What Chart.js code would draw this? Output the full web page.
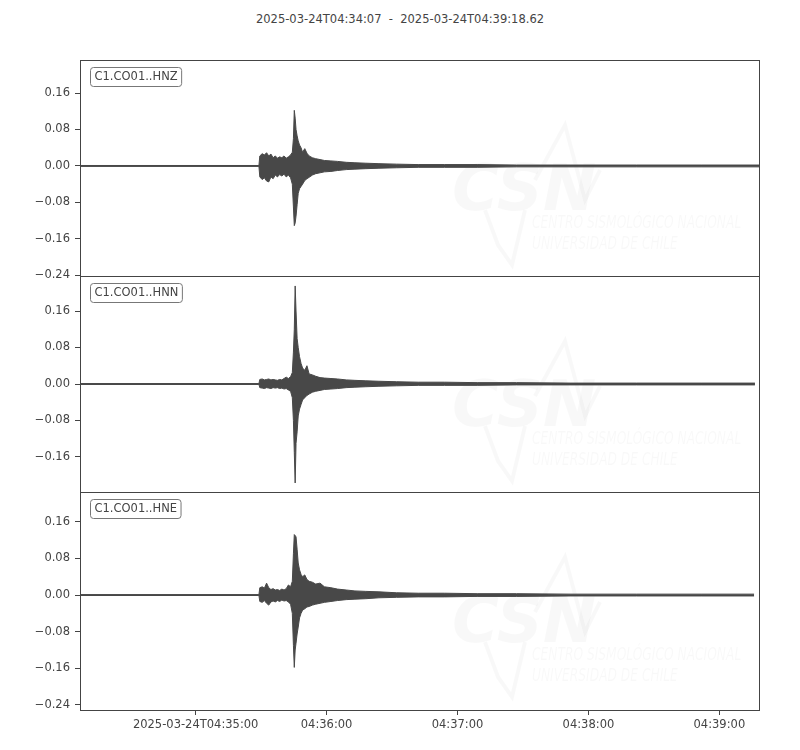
<!DOCTYPE html>
<html>
<head>
<meta charset="utf-8">
<script src="https://cdn.jsdelivr.net/npm/chart.js@4.4.1/dist/chart.umd.min.js"></script>
<style>
  body { margin: 0; background: #fff; }
  #wrap { position: relative; width: 800px; height: 750px; }
  canvas { position: absolute; left: 0; top: 0; }
  #title { position: absolute; top: 12px; left: 0; width: 800px; text-align: center;
           font: 11.5px "DejaVu Sans", sans-serif; color: #444; white-space: pre; }
</style>
</head>
<body>
<div id="wrap">
  <div id="title">2025-03-24T04:34:07  -  2025-03-24T04:39:18.62</div>
  <canvas id="c1" width="800" height="750"></canvas>
  <canvas id="c2" width="800" height="750"></canvas>
  <canvas id="c3" width="800" height="750"></canvas>
</div>
<script>
// seconds after 04:34:07 (last point is per-station end time)
const times = [0, 82.0, 82.4, 83.5, 84.5, 85.5, 86.5, 87.5, 88.5, 89.5,
    90.5, 91.5, 92.5, 93.5, 94.5, 95.5, 96.5, 97.3, 97.8, 98.2,
    98.6, 99.0, 99.5, 100.0, 100.6, 101.3, 102.0, 103.0, 104.0, 105.0,
    106.5, 108.0, 110.0, 112.0, 115.0, 118.0, 122.0, 126.0, 131.0, 137.0,
    145.0, 155.0, 167.0, 182.0, 200.0, 225.0, 255.0, 285.0];
const endTimes = [311.6, 309.3, 308.9];

const stations = ['C1.CO01..HNZ', 'C1.CO01..HNN', 'C1.CO01..HNE'];

// upper / lower envelope of the trace
const hnzTop = [0.001, 0.001, 0.022, 0.027, 0.024, 0.029, 0.022, 0.026, 0.018, 0.022,
    0.017, 0.020, 0.018, 0.022, 0.017, 0.020, 0.024, 0.030, 0.060, 0.122,
    0.105, 0.080, 0.066, 0.055, 0.046, 0.040, 0.030, 0.038, 0.028, 0.022,
    0.018, 0.016, 0.014, 0.012, 0.011, 0.010, 0.008, 0.007, 0.006, 0.005,
    0.004, 0.003, 0.003, 0.003, 0.002, 0.002, 0.002, 0.002, 0.002];
const hnzBot = [-0.001, -0.001, -0.024, -0.030, -0.026, -0.033, -0.035, -0.024, -0.028, -0.020,
    -0.024, -0.019, -0.022, -0.018, -0.024, -0.020, -0.026, -0.040, -0.090, -0.131,
    -0.125, -0.110, -0.085, -0.060, -0.050, -0.045, -0.040, -0.032, -0.028, -0.025,
    -0.020, -0.017, -0.015, -0.013, -0.012, -0.010, -0.008, -0.007, -0.006, -0.005,
    -0.004, -0.003, -0.003, -0.003, -0.002, -0.002, -0.002, -0.002, -0.002];
const hnnTop = [0.001, 0.001, 0.010, 0.011, 0.009, 0.010, 0.011, 0.009, 0.010, 0.009,
    0.008, 0.010, 0.009, 0.012, 0.015, 0.012, 0.016, 0.025, 0.070, 0.120,
    0.215, 0.160, 0.100, 0.080, 0.060, 0.045, 0.035, 0.030, 0.040, 0.022,
    0.020, 0.017, 0.014, 0.013, 0.012, 0.011, 0.009, 0.008, 0.007, 0.006,
    0.005, 0.004, 0.004, 0.003, 0.003, 0.002, 0.002, 0.002, 0.002];
const hnnBot = [-0.001, -0.001, -0.008, -0.009, -0.010, -0.008, -0.009, -0.010, -0.008, -0.009,
    -0.008, -0.010, -0.009, -0.011, -0.010, -0.013, -0.016, -0.030, -0.080, -0.150,
    -0.217, -0.130, -0.105, -0.070, -0.055, -0.045, -0.035, -0.030, -0.025, -0.022,
    -0.018, -0.016, -0.014, -0.012, -0.011, -0.010, -0.008, -0.007, -0.006, -0.005,
    -0.004, -0.003, -0.003, -0.003, -0.002, -0.002, -0.002, -0.002, -0.002];
const hneTop = [0.001, 0.001, 0.016, 0.018, 0.015, 0.026, 0.016, 0.012, 0.014, 0.011,
    0.012, 0.010, 0.013, 0.011, 0.014, 0.022, 0.018, 0.030, 0.090, 0.132,
    0.130, 0.127, 0.100, 0.070, 0.055, 0.045, 0.040, 0.044, 0.034, 0.030,
    0.028, 0.024, 0.026, 0.018, 0.016, 0.013, 0.011, 0.009, 0.008, 0.007,
    0.005, 0.004, 0.004, 0.003, 0.003, 0.002, 0.002, 0.002, 0.002];
const hneBot = [-0.001, -0.001, -0.014, -0.016, -0.012, -0.018, -0.022, -0.015, -0.013, -0.015,
    -0.012, -0.014, -0.011, -0.013, -0.012, -0.015, -0.020, -0.040, -0.110, -0.158,
    -0.120, -0.105, -0.085, -0.070, -0.050, -0.040, -0.033, -0.030, -0.026, -0.025,
    -0.022, -0.020, -0.018, -0.016, -0.014, -0.012, -0.010, -0.009, -0.008, -0.006,
    -0.005, -0.004, -0.004, -0.003, -0.003, -0.002, -0.002, -0.002, -0.002];

const tops = [hnzTop, hnnTop, hneTop];
const bots = [hnzBot, hnnBot, hneBot];

const yRanges = [[-0.2415, 0.2325], [-0.2368, 0.2368], [-0.2510, 0.2250]];
const yTicks = [
    [-0.24, -0.16, -0.08, 0, 0.08, 0.16],
    [-0.16, -0.08, 0, 0.08, 0.16],
    [-0.24, -0.16, -0.08, 0, 0.08, 0.16]
];
const xTicks = [53, 113, 173, 233, 293];
const xLabels = ['2025-03-24T04:35:00', '04:36:00', '04:37:00', '04:38:00', '04:39:00'];
const xMax = 311.62;

// panel pixel bounds (top, bottom)
const panels = [[60, 276], [276, 492], [492, 710]];

const ink = '#444444';
const trace = '#484848';
const font = { family: 'DejaVu Sans', size: 11.5 };

const framePlugin = {
    id: 'frame',
    beforeDatasetsDraw(chart) {
        // faint CSN watermark
        const a = chart.chartArea, ctx = chart.ctx;
        ctx.save();
        ctx.beginPath();
        ctx.rect(a.left, a.top, a.right - a.left, a.bottom - a.top);
        ctx.clip();
        ctx.fillStyle = 'rgba(0,0,0,0.028)';
        ctx.strokeStyle = 'rgba(0,0,0,0.028)';
        ctx.font = 'italic bold 64px "DejaVu Sans"';
        ctx.fillText('CSN', a.left + 372, a.top + 150);
        ctx.lineWidth = 4;
        ctx.beginPath();
        ctx.moveTo(a.left + 455, a.top + 120);
        ctx.lineTo(a.left + 485, a.top + 65);
        ctx.lineTo(a.left + 505, a.top + 140);
        ctx.lineTo(a.left + 520, a.top + 110);
        ctx.moveTo(a.left + 405, a.top + 150);
        ctx.lineTo(a.left + 418, a.top + 185);
        ctx.lineTo(a.left + 432, a.top + 205);
        ctx.lineTo(a.left + 445, a.top + 150);
        ctx.stroke();
        ctx.translate(a.left + 452, a.top + 168);
        ctx.scale(0.72, 1);
        ctx.font = 'italic 17px "DejaVu Sans"';
        ctx.fillText('CENTRO SISMOLÓGICO NACIONAL', 0, 0);
        ctx.fillText('UNIVERSIDAD DE CHILE', 0, 21);
        ctx.restore();
    },
    afterDraw(chart) {
        const a = chart.chartArea, ctx = chart.ctx;
        ctx.save();
        ctx.strokeStyle = ink;
        ctx.lineWidth = 1;
        ctx.strokeRect(a.left + 0.5, a.top + 0.5, a.right - a.left - 1, a.bottom - a.top);
        // station label box
        const name = chart.options.plugins.frame.name;
        ctx.font = '11.5px "DejaVu Sans"';
        const w = ctx.measureText(name).width + 8;
        ctx.beginPath();
        ctx.roundRect(a.left + 10.5, a.top + 7.5, w, 19, 3);
        ctx.fillStyle = '#fff';
        ctx.fill();
        ctx.strokeStyle = '#777';
        ctx.stroke();
        ctx.fillStyle = ink;
        ctx.textBaseline = 'middle';
        ctx.fillText(name, a.left + 14.5, a.top + 17.5);
        ctx.restore();
    }
};

function makePanel(i) {
    const last = i === 2;
    const t = times.concat([endTimes[i]]);
    const up = t.map((x, k) => ({ x: x, y: tops[i][k] }));
    const lo = t.map((x, k) => ({ x: x, y: bots[i][k] }));
    const line = { borderColor: trace, backgroundColor: trace, borderWidth: 1,
        pointRadius: 0, tension: 0 };
    return new Chart(document.getElementById('c' + (i + 1)), {
        type: 'line',
        data: {
            datasets: [
                Object.assign({ data: up, fill: false }, line),
                Object.assign({ data: lo, fill: '-1' }, line)
            ]
        },
        options: {
            responsive: false,
            animation: false,
            events: [],
            layout: { padding: { left: 0, right: 40, top: panels[i][0],
                bottom: last ? 0 : 750 - panels[i][1] } },
            plugins: { legend: false, tooltip: false, frame: { name: stations[i] } },
            scales: {
                x: {
                    type: 'linear',
                    display: last,
                    min: 0,
                    max: xMax,
                    afterFit: s => { s.height = last ? 40 : 0; },
                    afterBuildTicks: s => { s.ticks = xTicks.map(v => ({ value: v })); },
                    grid: { drawOnChartArea: false, tickLength: 5, color: ink },
                    border: { display: false },
                    ticks: {
                        color: ink, font: font, padding: 3, maxRotation: 0, autoSkip: false,
                        callback: v => xLabels[xTicks.indexOf(v)]
                    }
                },
                y: {
                    min: yRanges[i][0],
                    max: yRanges[i][1],
                    afterFit: s => { s.width = 80; },
                    afterBuildTicks: s => { s.ticks = yTicks[i].map(v => ({ value: v })); },
                    grid: { drawOnChartArea: false, tickLength: 5, color: ink },
                    border: { display: false },
                    ticks: {
                        color: ink, font: font, padding: 5,
                        callback: v => (v < 0 ? '\u2212' : '') + Math.abs(v).toFixed(2)
                    }
                }
            }
        },
        plugins: [framePlugin]
    });
}

[0, 1, 2].forEach(makePanel);
</script>
</body>
</html>
